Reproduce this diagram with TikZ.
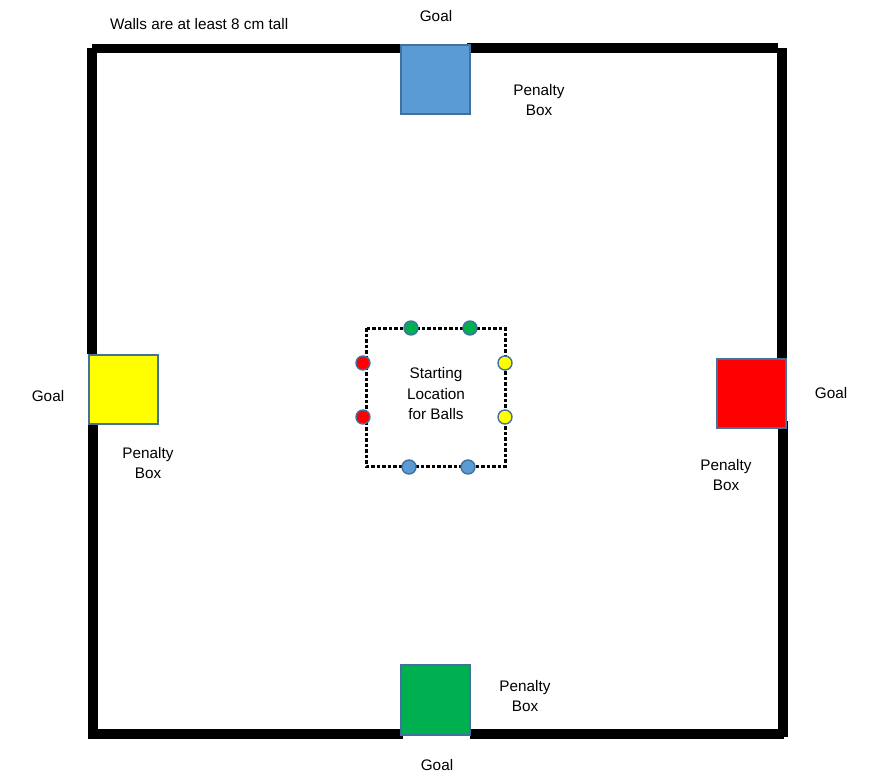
\documentclass[tikz,border=0pt]{standalone}
\usepackage{fontspec}
\setmainfont{Liberation Sans}
\definecolor{goalblue}{HTML}{5B9BD5}
\definecolor{goalborder}{HTML}{41719C}
\definecolor{goalgreen}{HTML}{00B050}
\definecolor{goalred}{HTML}{FF0000}
\definecolor{goalyellow}{HTML}{FFFF00}
\tikzset{
  wallseg/.style={fill=black, draw=none},
  goalbox/.style={draw=goalborder, line width=1.6pt},
  ball/.style={circle, draw=goalborder, line width=1.4pt, minimum size=14pt, inner sep=0pt},
  lbl/.style={font=\fontsize{15.3}{20.5}\selectfont, align=center, inner sep=0pt, text=black},
  startarea/.style={draw=black, line width=3pt, dash pattern=on 3.5pt off 2pt}
}
\begin{document}
\begin{tikzpicture}[x=1pt,y=-1pt]
\useasboundingbox (0,0) rectangle (879,777);
% walls
\fill[wallseg] (92,44) rectangle (400,53);
\fill[wallseg] (467,43) rectangle (778,53);
\fill[wallseg] (87,48) rectangle (97,354);
\fill[wallseg] (88,424) rectangle (98,739);
\fill[wallseg] (777,48) rectangle (787,358);
\fill[wallseg] (778,421) rectangle (788,737);
\fill[wallseg] (92,729) rectangle (403,739);
\fill[wallseg] (470,729) rectangle (784,739);
% goals
\draw[goalbox, fill=goalblue] (401,45) rectangle (470,114);
\draw[goalbox, fill=goalyellow] (89,355) rectangle (158,424);
\draw[goalbox, fill=goalred] (717,359) rectangle (786,428);
\draw[goalbox, fill=goalgreen] (401,665) rectangle (470,735);
% starting area
\draw[startarea] (366,328) rectangle (505,466);
\node[lbl] (start) at (436,394) {Starting\\Location\\for Balls};
% balls
\node[ball, fill=goalgreen] (g1) at (411,328) {};
\node[ball, fill=goalgreen] (g2) at (470,328) {};
\node[ball, fill=goalred] (r1) at (363,363) {};
\node[ball, fill=goalred] (r2) at (363,417) {};
\node[ball, fill=goalyellow] (y1) at (505,363) {};
\node[ball, fill=goalyellow] (y2) at (505,417) {};
\node[ball, fill=goalblue] (b1) at (409,467) {};
\node[ball, fill=goalblue] (b2) at (468,467) {};
% labels
\node[lbl, anchor=west] (walls) at (110,24) {Walls are at least 8 cm tall};
\node[lbl] (goaltop) at (436,16) {Goal};
\node[lbl] (pentop) at (539,100) {Penalty\\Box};
\node[lbl] (goalleft) at (48,396) {Goal};
\node[lbl] (penleft) at (148,463) {Penalty\\Box};
\node[lbl] (goalright) at (831,393) {Goal};
\node[lbl] (penright) at (726,475) {Penalty\\Box};
\node[lbl] (penbot) at (525,696) {Penalty\\Box};
\node[lbl] (goalbot) at (437,765) {Goal};
\end{tikzpicture}
\end{document}
